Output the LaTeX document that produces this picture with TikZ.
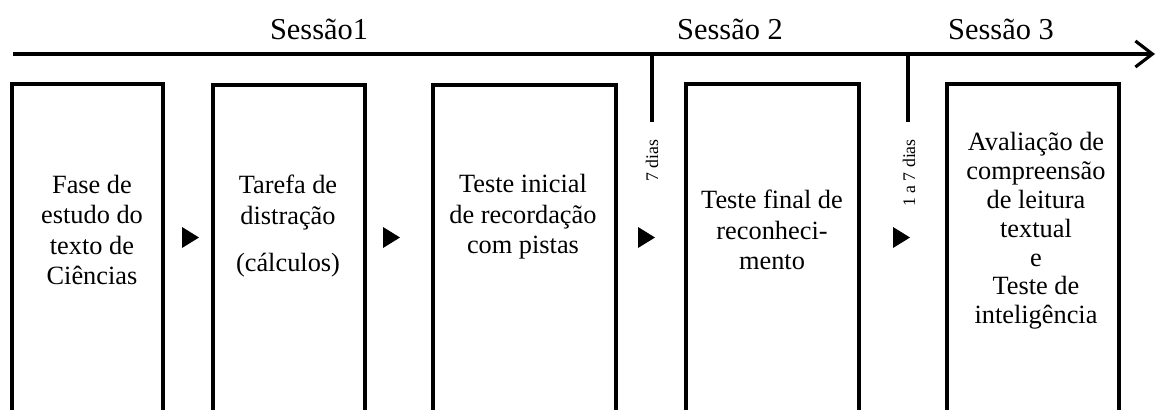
\documentclass[tikz,border=0pt]{standalone}
\usepackage{fontspec}
\setmainfont{Liberation Serif}
\usetikzlibrary{arrows.meta}
\tikzstyle{etapa} = [align=center, inner sep=0pt, font=\fontsize{15}{17.3}\selectfont]
\tikzstyle{moldura} = [line width=2pt, line join=miter]
\tikzstyle{sessao} = [anchor=base, inner sep=0pt, font=\fontsize{17.3}{20}\selectfont]
\tikzstyle{intervalo} = [rotate=90, inner sep=0pt, font=\fontsize{10.1}{12}\selectfont]
\tikzstyle{eixo} = [line width=1.8pt, -{Straight Barb[length=3.4mm, width=5.2mm]}]

\begin{document}
\begin{tikzpicture}[x=0.02cm, y=-0.02cm]
	\useasboundingbox (0,0) rectangle (1156,409);
	% linha do tempo
	\node (s1) [sessao] at (319,39) {Sessão1};
	\node (s2) [sessao] at (730,39) {Sessão 2};
	\node (s3) [sessao] at (1001,39) {Sessão 3};
	\coordinate (inicio) at (13,54);
	\coordinate (fim) at (1155,54);
	\draw [eixo] (inicio) -- (fim);
	\draw [moldura] (652,54) -- (652,122);
	\draw [moldura] (908,54) -- (908,122);
	\node (d1) [intervalo] at (652,161) {7 dias};
	\node (d2) [intervalo] at (909,173) {1 a 7 dias};
	% etapas
	\node (fase) [etapa] at (92,230) {Fase de\\estudo do\\texto de\\Ciências};
	\node (tarefa) [etapa] at (288,226) {Tarefa de\\distração\\[0.33cm](cálculos)};
	\node (inicial) [etapa] at (523,217) {Teste inicial\\de recordação\\com pistas};
	\node (final) [etapa] at (772,230) {Teste final de\\reconheci-\\mento};
	\node (avaliacao) [etapa, font=\fontsize{15}{16.4}\selectfont] at (1036,231) {Avaliação de\\compreensão\\de leitura\\textual\\e\\Teste de\\inteligência};
	\draw [moldura] (12,414) |- (163,84) -- (163,414);
	\draw [moldura] (213,414) |- (365,85) -- (365,414);
	\draw [moldura] (433,414) |- (616,85) -- (616,414);
	\draw [moldura] (686,414) |- (859,84) -- (859,414);
	\draw [moldura] (947,414) |- (1119,84) -- (1119,414);
	% setas entre etapas
	\foreach \x in {182,383,638,893}
		\fill (\x,227) -- (\x+17,237.5) -- (\x,248) -- cycle;
\end{tikzpicture}
\end{document}
